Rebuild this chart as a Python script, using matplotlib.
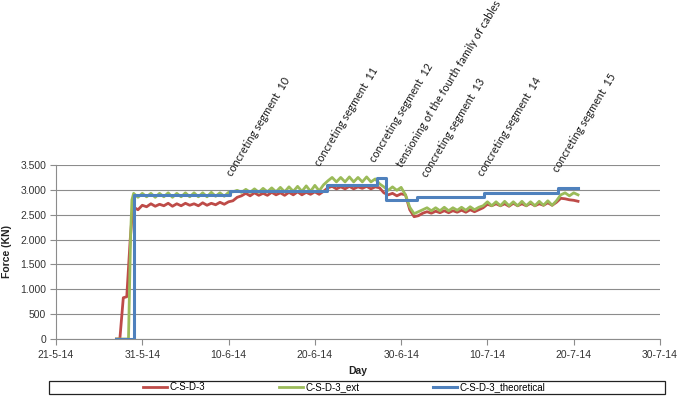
import datetime as dt
import numpy as np
import matplotlib
matplotlib.use("Agg")
import matplotlib.pyplot as plt
import matplotlib.dates as mdates
from matplotlib.ticker import FuncFormatter, MultipleLocator, FixedLocator
from matplotlib.patches import Rectangle

BASE = dt.datetime(2014, 5, 21)

# ---- data (days counted from 21-5-14) ----
red_rise_days = [7.0, 7.4, 7.8, 8.2, 8.35, 8.6, 8.9]
red_rise_vals = [0, 0, 830, 850, 1280, 2000, 2650]

green_rise_days = [7.0, 8.4, 8.65, 8.8]
green_rise_vals = [0, 0, 2100, 2800]

# half-day samples starting at day 9.0
osc_start = 9.0
red_vals = [
    2650, 2600, 2690, 2660, 2720, 2670, 2710, 2680, 2730, 2670, 2720, 2680,
    2730, 2690, 2720, 2680, 2740, 2690, 2730, 2700, 2750, 2710, 2760, 2780,
    2850, 2880, 2930, 2880, 2940, 2890, 2930, 2890, 2950, 2900, 2940, 2890,
    2950, 2900, 2960, 2900, 2950, 2910, 2960, 2910, 2970, 3040, 3070, 3020,
    3060, 3020, 3070, 3020, 3060, 3030, 3070, 3020, 3060, 3040, 2940, 2900,
    2930, 2880, 2920, 2900, 2600, 2460, 2480, 2530, 2560, 2530, 2570, 2540,
    2580, 2540, 2580, 2550, 2590, 2550, 2600, 2560, 2600, 2640, 2710, 2680,
    2720, 2680, 2720, 2670, 2730, 2680, 2720, 2680, 2730, 2680, 2720, 2690,
    2740, 2690, 2750, 2830, 2820, 2800, 2790, 2770,
]
green_vals = [
    2930, 2850, 2930, 2860, 2930, 2850, 2930, 2860, 2940, 2850, 2930, 2860,
    2940, 2860, 2940, 2860, 2940, 2860, 2950, 2870, 2940, 2870, 2950, 2960,
    2990, 2950, 3010, 2950, 3020, 2950, 3030, 2960, 3040, 2960, 3050, 2960,
    3060, 2970, 3070, 2970, 3080, 2970, 3090, 2980, 3100, 3180, 3250, 3160,
    3250, 3160, 3260, 3160, 3250, 3160, 3260, 3160, 3220, 3120, 3060, 2990,
    3060, 2990, 3050, 2900, 2650, 2520, 2560, 2600, 2640, 2580, 2640, 2580,
    2650, 2580, 2640, 2590, 2650, 2590, 2660, 2600, 2650, 2680, 2760, 2680,
    2760, 2680, 2770, 2680, 2760, 2680, 2770, 2680, 2760, 2680, 2770, 2690,
    2780, 2690, 2780, 2900, 2940, 2880, 2940, 2900,
]

theo_days = [7.0, 9.0, 20.2, 31.4, 37.2, 38.2, 41.8, 49.6, 58.2, 60.5]
theo_vals = [0, 2890, 2980, 3090, 3230, 2800, 2850, 2940, 3030, 3030]

tick_days = [0, 10, 20, 30, 40, 50, 60, 70]

events = [
    "concreting segment  10",
    "concreting segment  11",
    "concreting segment  12",
    "tensioning of the fourth family of cables",
    "concreting segment  13",
    "concreting segment  14",
    "concreting segment  15",
]
event_days = [20.4, 30.6, 37.0, 40.1, 43.0, 49.5, 58.2]
event_y = [3259, 3460, 3540, 3440, 3239, 3259, 3339]

series_names = ["C-S-D-3", "C-S-D-3_ext", "C-S-D-3_theoretical"]
colors = ["#BE4B48", "#9BBB59", "#4F81BD"]

# ---- build x arrays ----
def to_num(days):
    return mdates.date2num(BASE) + np.asarray(days, dtype=float)

osc_days_red = osc_start + 0.5 * np.arange(len(red_vals))
osc_days_green = osc_start + 0.5 * np.arange(len(green_vals))

red_x = to_num(list(red_rise_days) + list(osc_days_red))
red_y = list(red_rise_vals) + red_vals
green_x = to_num(list(green_rise_days) + list(osc_days_green))
green_y = list(green_rise_vals) + green_vals

plt.rcParams['font.family'] = ['Liberation Sans', 'DejaVu Sans']

fig = plt.figure(figsize=(6.85, 4.05), dpi=100)
ax = fig.add_axes([56 / 685, 1 - 339 / 405, (660 - 56) / 685, (339 - 165) / 405])

ax.plot(red_x, red_y, color=colors[0], lw=2.0, label=series_names[0], zorder=3)
ax.plot(green_x, green_y, color=colors[1], lw=2.0, label=series_names[1], zorder=4)
ax.plot(to_num(theo_days), theo_vals, color=colors[2], lw=2.2, drawstyle='steps-post',
        label=series_names[2], zorder=5)

ax.set_xlim(to_num([0])[0], to_num([70])[0])
ax.set_ylim(0, 3500)
ax.xaxis.set_major_locator(FixedLocator(to_num(tick_days)))
ax.xaxis.set_major_formatter(FuncFormatter(
    lambda v, p: (lambda d: f"{d.day}-{d.month}-{d.year % 100}")(mdates.num2date(v + 1e-6))))
ax.yaxis.set_major_locator(MultipleLocator(500))
ax.yaxis.set_major_formatter(FuncFormatter(lambda v, p: f"{v:,.0f}".replace(",", ".")))

ax.grid(axis='y', color='#8c8c8c', lw=0.8)
ax.set_axisbelow(True)
for s in ['top', 'right']:
    ax.spines[s].set_visible(False)
for s in ['left', 'bottom']:
    ax.spines[s].set_color('#8c8c8c')
    ax.spines[s].set_linewidth(0.8)
ax.tick_params(axis='both', colors='#8c8c8c', length=4, width=0.8, labelsize=7.5,
               labelcolor='#333333')
ax.tick_params(axis='x', pad=4)
ax.tick_params(axis='y', pad=3)

ax.set_xlabel("Day", fontsize=7.5, fontweight='bold', color='#222222', labelpad=4)
ax.set_ylabel("Force (KN)", fontsize=7.5, fontweight='bold', color='#222222', labelpad=6)

for txt, d, yv in zip(events, event_days, event_y):
    ax.text(to_num([d])[0], yv, txt, rotation=59, rotation_mode='anchor',
            ha='left', va='baseline', fontsize=7.8, family=['Lato', 'DejaVu Sans'],
            color='#1a1a1a', clip_on=False)

# legend with frame box
fig.patches.append(Rectangle((49 / 685, 1 - 393.5 / 405), (665 - 49) / 685, 13 / 405,
                             transform=fig.transFigure, fill=False, edgecolor='#222222',
                             lw=0.9))
handles, labels = ax.get_legend_handles_labels()
fig.legend(handles, labels, ncol=3, loc='center left',
           bbox_to_anchor=(143 / 685, 1 - 387 / 405), frameon=False, borderpad=0,
           borderaxespad=0, fontsize=7, handlelength=2.5, handletextpad=0.2,
           columnspacing=7.6)

fig.savefig("out.png", dpi=100)
